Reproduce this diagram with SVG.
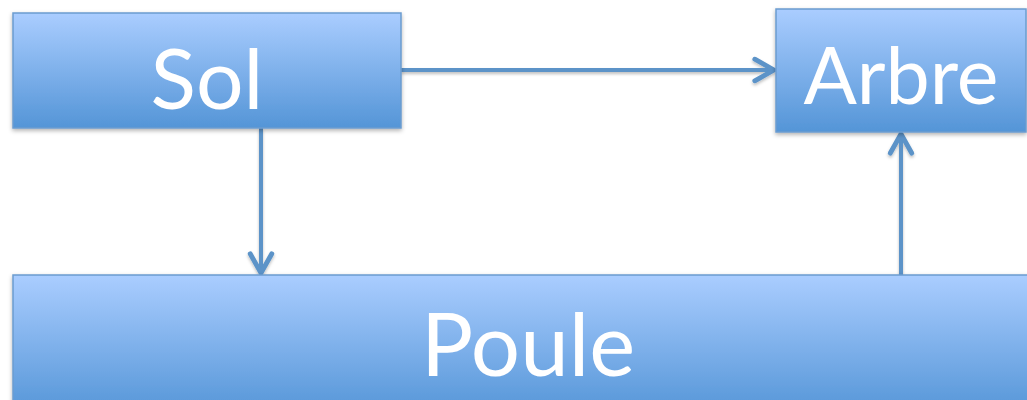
<svg xmlns="http://www.w3.org/2000/svg" width="1027" height="400" viewBox="0 0 1027 400">
<style>
.box{fill:url(#g);stroke:#6b9ccf;stroke-width:1.5;filter:url(#sh)}
.lbl{fill:#ffffff;font-family:Lato,"Open Sans",sans-serif;font-size:84px;text-anchor:middle}
.c{stroke:#5b93c8;stroke-width:4;fill:none;marker-end:url(#ah);filter:url(#sh2)}
</style>
<defs>
<linearGradient id="g" x1="0" y1="0" x2="0" y2="1">
<stop offset="0" stop-color="#aacdff"/>
<stop offset="1" stop-color="#5495d7"/>
</linearGradient>
<filter id="sh" x="-5%" y="-10%" width="110%" height="130%">
<feDropShadow dx="0" dy="2" stdDeviation="2" flood-color="#000" flood-opacity="0.3"/>
</filter>
<filter id="sh2" filterUnits="userSpaceOnUse" x="0" y="0" width="1027" height="400">
<feDropShadow dx="0" dy="2" stdDeviation="1.5" flood-color="#000" flood-opacity="0.25"/>
</filter>
<marker id="ah" viewBox="0 0 10 10" refX="9" refY="5" markerWidth="6" markerHeight="6" markerUnits="strokeWidth" orient="auto" overflow="visible">
<path d="M1,0.5 L9,5 L1,9.5" fill="none" stroke="#5b93c8" stroke-width="2" stroke-linecap="round" stroke-linejoin="round"/>
</marker>
</defs>
<g id="connectors">
<line class="c" x1="401" y1="70" x2="774" y2="70"/>
<line class="c" x1="261" y1="128" x2="261" y2="273"/>
<line class="c" x1="901" y1="275" x2="901" y2="134"/>
</g>
<g id="node-sol">
<rect class="box" x="13" y="13" width="388" height="115"/>
<text class="lbl" x="207" y="109">Sol</text>
</g>
<g id="node-arbre">
<rect class="box" x="776" y="9" width="250" height="123"/>
<text class="lbl" x="901" y="104" style="font-size:79px">Arbre</text>
</g>
<g id="node-poule">
<rect class="box" x="13" y="275" width="1030" height="140"/>
<text class="lbl" x="528" y="376" style="font-size:87px">Poule</text>
</g>
</svg>
